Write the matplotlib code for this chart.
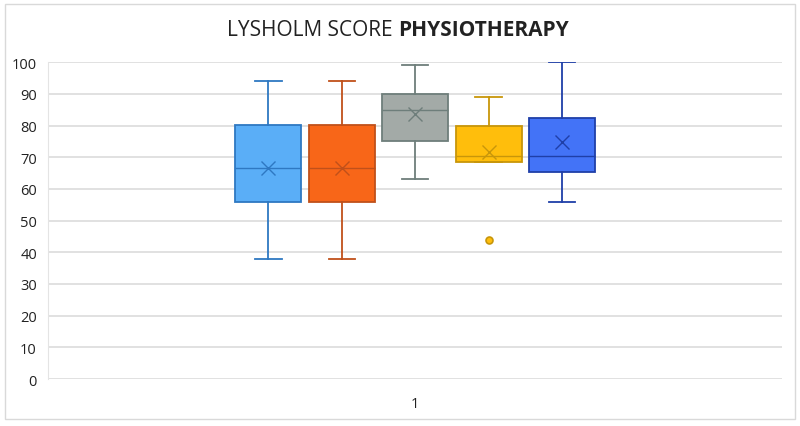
import matplotlib.pyplot as plt
from matplotlib.patches import Rectangle

plt.rcParams['font.family'] = ['Open Sans', 'DejaVu Sans']

# box statistics (Excel box & whisker)
whisker_low = [38, 38, 63, 68.5, 56]
q1 = [56, 56, 75, 68.5, 65.5]
median = [66.5, 66.5, 85, 70.5, 70.5]
q3 = [80.3, 80.3, 90, 80, 82.5]
whisker_high = [94, 94, 99, 89, 100]
means = [66.5, 66.5, 83.5, 71.5, 74.8]
outliers = [[], [], [], [44], []]

face_colors = ['#5AAEF7', '#F86618', '#A3AAA7', '#FFBE0C', '#4373F7']
edge_colors = ['#2E78C2', '#C0501A', '#6E7E7B', '#C8960A', '#1F3FA8']

y_ticks = list(range(0, 101, 10))
category = '1'

fig = plt.figure(figsize=(8, 4.27), dpi=100)
ax = fig.add_axes([0.06, 0.11, 0.918, 0.742])

stats = []
for i in range(len(q1)):
    stats.append({'whislo': whisker_low[i], 'q1': q1[i], 'med': median[i],
                  'q3': q3[i], 'whishi': whisker_high[i], 'mean': means[i],
                  'fliers': outliers[i]})

n = len(stats)
positions = [0.5 + (i - (n - 1) / 2) * 0.1 for i in range(n)]

for i, st in enumerate(stats):
    ec = edge_colors[i]
    ax.bxp([st], positions=[positions[i]], widths=0.09, patch_artist=True,
           showmeans=True, showfliers=True,
           boxprops=dict(facecolor=face_colors[i], edgecolor=ec, linewidth=1.3),
           medianprops=dict(color=ec, linewidth=1.0),
           whiskerprops=dict(color=ec, linewidth=1.3),
           capprops=dict(color=ec, linewidth=1.3),
           capwidths=0.036,
           meanprops=dict(marker='x', markeredgecolor=ec, markersize=10,
                          markeredgewidth=1.0),
           flierprops=dict(marker='o', markerfacecolor=face_colors[i],
                           markeredgecolor=ec, markersize=5, markeredgewidth=1.2))

ax.set_xlim(0, 1)
ax.set_ylim(0, 100)
ax.set_yticks(y_ticks)
ax.set_xticks([0.5])
ax.set_xticklabels([category])
ax.yaxis.grid(True, color='#DCDCDC', linewidth=1.2)
ax.set_axisbelow(True)
for s in ['top', 'right', 'bottom']:
    ax.spines[s].set_visible(False)
ax.spines['left'].set_color('#E4E4E4')
ax.tick_params(axis='both', length=0, labelsize=10.5, colors='#222222', pad=8)
ax.tick_params(axis='x', pad=12)
ax.set_clip_on(False)

# title with bold second part
t1 = fig.text(0.5, 0.915, 'LYSHOLM SCORE ', fontsize=15, color='#222222',
              ha='right', va='baseline')
t2 = fig.text(0.5, 0.915, 'PHYSIOTHERAPY', fontsize=15, color='#222222',
              fontweight='bold', ha='left', va='baseline')
fig.canvas.draw()
r = fig.canvas.get_renderer()
w1 = t1.get_window_extent(r).width
w2 = t2.get_window_extent(r).width
W = fig.bbox.width
split = 0.497 + (w1 - w2) / 2 / W
t1.set_x(split)
t2.set_x(split)

# chart area border
fig.patches.append(Rectangle((0.006, 0.016), 0.988, 0.972, transform=fig.transFigure,
                             fill=False, edgecolor='#D9D9D9', linewidth=1.0))

fig.savefig('out.png', dpi=100)
